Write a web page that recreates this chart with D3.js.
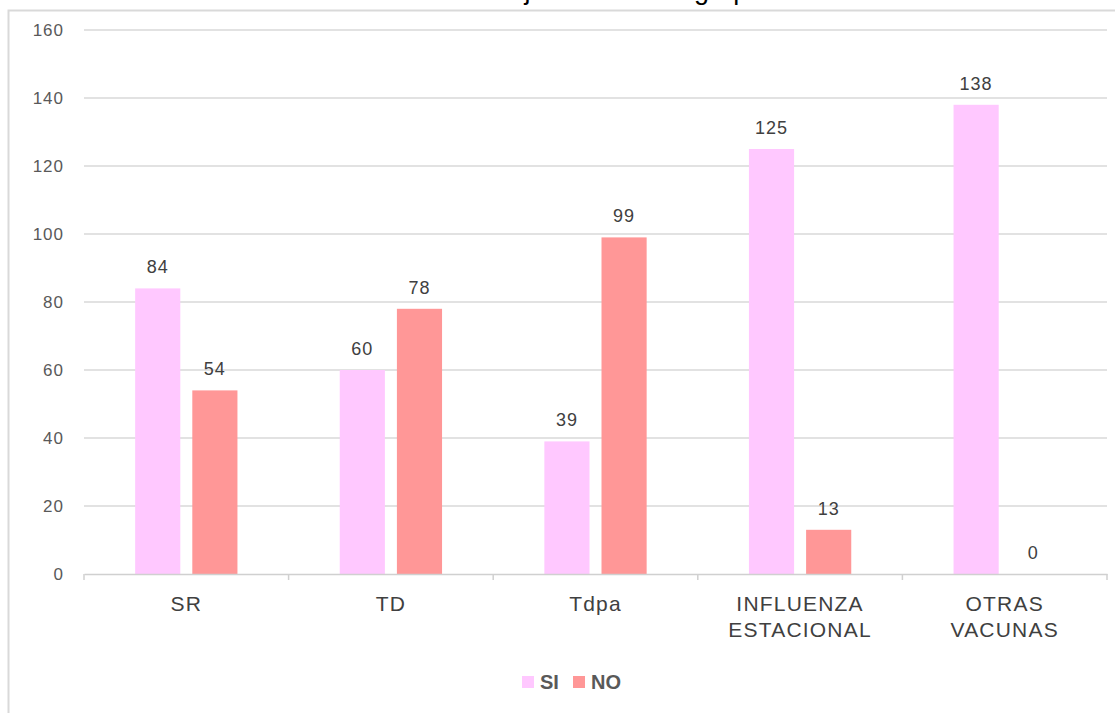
<!DOCTYPE html>
<html><head><meta charset="utf-8">
<script src="https://cdn.jsdelivr.net/npm/d3@7"></script>
<style>
html,body{margin:0;padding:0;background:#fff;overflow:hidden}
svg{display:block}
</style></head>
<body>
<svg id="chart" width="1115" height="713"></svg>
<script>
const categories = [["SR"],["TD"],["Tdpa"],["INFLUENZA","ESTACIONAL"],["OTRAS","VACUNAS"]];
const seriesNames = ["SI","NO"];
const siValues = [84, 60, 39, 125, 138];
const noValues = [54, 78, 99, 13, 0];
const yTicks = [0,20,40,60,80,100,120,140,160];
const titleText = "Mujeres en cada grupo";

const colors = {SI:"#ffc8ff", NO:"#ff9797"};
const svg = d3.select("#chart");
const W = 1115, H = 713;
const m = {left:84, right:8, top:30, bottom:139};
const FONT = "Liberation Sans, Arial, sans-serif";

// outer chart border
svg.append("rect").attr("x",8.5).attr("y",10.5).attr("width",1120).attr("height",720)
  .attr("fill","none").attr("stroke","#d9d9d9").attr("stroke-width",2);

// partially visible title (cut off at the top, as in the reference)
svg.append("text").attr("x",487).attr("y",-1).attr("text-anchor","start")
  .attr("font-family",FONT).attr("font-size",27)
  .attr("fill","#000").text(titleText);

const catKeys = categories.map(c=>c.join(" "));
const x0 = d3.scaleBand().domain(catKeys).range([m.left, W - m.right]).paddingInner(0).paddingOuter(0);
const bw = x0.bandwidth();
const x1 = d3.scaleBand().domain(seriesNames).range([bw*0.25, bw*0.75]).paddingInner(0.21).paddingOuter(0);
const y = d3.scaleLinear().domain([0,160]).range([H - m.bottom, m.top]);

// gridlines
svg.append("g").selectAll("line").data(yTicks.filter(t=>t>0)).join("line")
  .attr("x1",m.left).attr("x2",W-m.right)
  .attr("y1",d=>y(d)).attr("y2",d=>y(d))
  .attr("stroke","#d9d9d9").attr("stroke-width",1.5);

// y labels
svg.append("g").selectAll("text").data(yTicks).join("text")
  .attr("x",64).attr("y",d=>y(d)).attr("dy","0.35em").attr("text-anchor","end")
  .attr("font-family",FONT).attr("font-size",17).attr("letter-spacing","1px")
  .attr("fill","#595959").text(d=>d);

const data = catKeys.map((k,i)=>({key:k, lines:categories[i], vals:[{s:"SI",v:siValues[i]},{s:"NO",v:noValues[i]}]}));

const groups = svg.append("g").selectAll("g").data(data).join("g")
  .attr("transform",d=>`translate(${x0(d.key)},0)`);

groups.selectAll("rect").data(d=>d.vals).join("rect")
  .attr("x",d=>x1(d.s)).attr("width",x1.bandwidth())
  .attr("y",d=>y(d.v)).attr("height",d=>y(0)-y(d.v))
  .attr("fill",d=>colors[d.s]);

groups.selectAll("text.val").data(d=>d.vals).join("text").attr("class","val")
  .attr("x",d=>x1(d.s)+x1.bandwidth()/2).attr("y",d=>y(d.v)-15)
  .attr("text-anchor","middle")
  .attr("font-family",FONT).attr("font-size",18).attr("letter-spacing","1px")
  .attr("fill","#404040").text(d=>d.v);

// x axis line
const xAxis = d3.axisBottom(x0).tickSize(0).tickFormat("");
const gx = svg.append("g").attr("transform",`translate(0,${y(0)})`).call(xAxis);
gx.select(".domain").attr("stroke","#d0d0d0").attr("stroke-width",1.5);
const bounds = catKeys.map(k=>x0(k)).concat([x0(catKeys[catKeys.length-1])+bw]);
gx.selectAll("line.tk").data(bounds).join("line").attr("class","tk")
  .attr("x1",d=>d).attr("x2",d=>d).attr("y1",0).attr("y2",6)
  .attr("stroke","#d0d0d0").attr("stroke-width",1.5);

// category labels
groups.each(function(d){
  const t = d3.select(this).append("text").attr("x",bw/2).attr("y",y(0)+37)
    .attr("text-anchor","middle").attr("font-family",FONT)
    .attr("font-size",21).attr("fill","#404040").attr("letter-spacing","1.2px");
  d.lines.forEach((ln,i)=>t.append("tspan").attr("x",bw/2).attr("dy",i===0?0:26).text(ln));
});

// legend
const legend = svg.append("g").attr("transform","translate(522,676)");
const legItems = [{s:"SI",x:0},{s:"NO",x:51}];
legItems.forEach(it=>{
  legend.append("rect").attr("x",it.x).attr("y",0).attr("width",12).attr("height",12).attr("fill",colors[it.s]);
  legend.append("text").attr("x",it.x+18).attr("y",6).attr("dy","0.36em")
    .attr("font-family","Liberation Sans Narrow, Arial Narrow, Liberation Sans, sans-serif")
    .attr("font-weight","bold").attr("font-size",20).attr("fill","#595959").text(it.s);
});
</script>
</body></html>
